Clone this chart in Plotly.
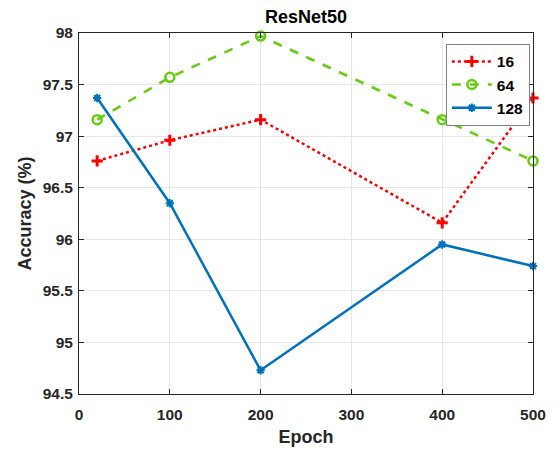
import plotly.graph_objects as go

epochs = [20, 100, 200, 400, 500]
acc_16 = [96.76, 96.96, 97.16, 96.16, 97.37]
acc_64 = [97.16, 97.57, 97.97, 97.16, 96.76]
acc_128 = [97.37, 96.35, 94.73, 95.95, 95.74]
x_ticks = [0, 100, 200, 300, 400, 500]
y_ticks = [94.5, 95, 95.5, 96, 96.5, 97, 97.5, 98]
y_tick_text = ["94.5", "95", "95.5", "96", "96.5", "97", "97.5", "98"]

FONT = "Liberation Sans, Arial, sans-serif"
TXT = "#262626"

fig = go.Figure()
fig.add_trace(go.Scatter(
    x=epochs, y=acc_16, name="<b>16</b>", mode="lines+markers",
    line=dict(color="#FF0000", width=2.5, dash="dot"),
    marker=dict(symbol="cross-thin-open", size=8, line=dict(color="#FF0000", width=3)),
    cliponaxis=False))
fig.add_trace(go.Scatter(
    x=epochs, y=acc_64, name="<b>64</b>", mode="lines+markers",
    line=dict(color="#66CC11", width=2.5, dash="dash"),
    marker=dict(symbol="circle-open", size=9, line=dict(color="#66CC11", width=2.5)),
    cliponaxis=False))
fig.add_trace(go.Scatter(
    x=epochs, y=acc_128, name="<b>128</b>", mode="lines+markers",
    line=dict(color="#0072BD", width=2.5),
    marker=dict(symbol="asterisk-open", size=7, line=dict(color="#0072BD", width=2)),
    cliponaxis=False))

axis_common = dict(
    showline=True, linecolor=TXT, linewidth=1, mirror="ticks",
    ticks="inside", ticklen=5, tickcolor=TXT, tickwidth=1,
    showgrid=True, gridcolor="#E6E6E6", gridwidth=1, zeroline=False,
    tickfont=dict(family=FONT, size=15.5, color=TXT),
)

fig.update_layout(
    width=558, height=455,
    margin=dict(l=79, r=14, t=33, b=54),
    paper_bgcolor="white", plot_bgcolor="white",
    title=dict(text="<b>ResNet50</b>", x=0.5, xref="paper", xanchor="center",
               y=1 - 17 / 455, yref="container", yanchor="middle",
               font=dict(family=FONT, size=18, color="black")),
    xaxis=dict(range=[0, 500], tickvals=x_ticks, ticktext=[f"<b>{v}</b>" for v in x_ticks],
               ticklabelstandoff=6,
               title=dict(text="<b>Epoch</b>", font=dict(family=FONT, size=18, color=TXT), standoff=8),
               **axis_common),
    yaxis=dict(range=[94.5, 98], tickvals=y_ticks, ticktext=[f"<b>{t}</b>" for t in y_tick_text],
               ticklabelstandoff=2,
               title=dict(text="<b>Accuracy (%)</b>", font=dict(family=FONT, size=18, color=TXT), standoff=6),
               **axis_common),
    legend=dict(x=0.993, xanchor="right", y=0.97, yanchor="top",
                bgcolor="white", bordercolor="#7F7F7F", borderwidth=1,
                font=dict(family=FONT, size=15.5, color="black"),
                tracegroupgap=0, itemwidth=40),
    showlegend=True,
)

fig.write_html(
    "out.html",
    config={"displayModeBar": False},
    post_script="document.body.style.margin='0';document.documentElement.style.overflow='hidden';",
)
